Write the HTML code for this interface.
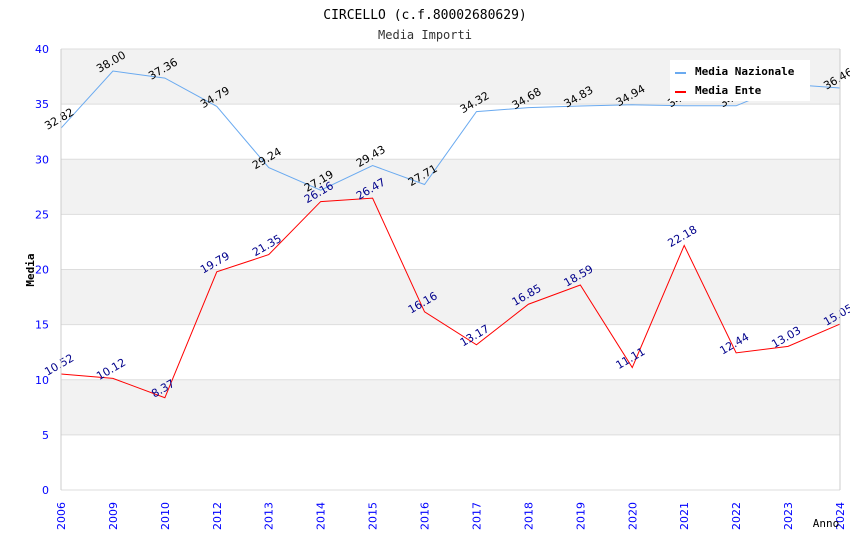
<!DOCTYPE html>
<html><head><meta charset="utf-8"><style>
body{margin:0;background:#fff;font-family:"DejaVu Sans Mono","Liberation Mono",monospace}
svg text{font-family:"DejaVu Sans","Liberation Sans",sans-serif}
.mono{font-family:"DejaVu Sans Mono","Liberation Mono",monospace}
</style></head><body>
<svg id="chart" width="850" height="550" xmlns="http://www.w3.org/2000/svg">
<text class="mono" x="425" y="19" text-anchor="middle" font-size="13" fill="#000">CIRCELLO (c.f.80002680629)</text>
<text class="mono" x="425" y="39" text-anchor="middle" font-size="12" fill="#333">Media Importi</text>
<g id="grid"></g><g id="lines"></g><g id="labels"></g><g id="axes"></g>
<text class="mono" x="34" y="270" transform="rotate(-90 34 270)" text-anchor="middle" font-size="11" font-weight="bold" fill="#000">Media</text>
<text class="mono" x="826" y="527" text-anchor="middle" font-size="11" fill="#000">Anno</text>
<g>
<rect x="670" y="60" width="140" height="41" fill="#fff"/>
<line x1="675" y1="73" x2="686" y2="73" stroke="#6aaaf0" stroke-width="2"/>
<text class="mono" x="695" y="75" font-size="11" font-weight="bold">Media Nazionale</text>
<line x1="675" y1="92" x2="686" y2="92" stroke="#f00" stroke-width="2"/>
<text class="mono" x="695" y="94" font-size="11" font-weight="bold">Media Ente</text>
</g>
</svg>
<script>
const categories=["2006","2009","2010","2012","2013","2014","2015","2016","2017","2018","2019","2020","2021","2022","2023","2024"];
const nazionale=[32.82,38.00,37.36,34.79,29.24,27.19,29.43,27.71,34.32,34.68,34.83,34.94,34.85,34.85,36.8,36.46];
const ente=[10.52,10.12,8.37,19.79,21.35,26.16,26.47,16.16,13.17,16.85,18.59,11.11,22.18,12.44,13.03,15.05];
const yTicks=[0,5,10,15,20,25,30,35,40];
const L=61,R=840,T=49,B=490,NS="http://www.w3.org/2000/svg";
const x=i=>L+i*(R-L)/(categories.length-1);
const y=v=>B-v*(B-T)/40;
function mk(p,t,a){const e=document.createElementNS(NS,t);for(const k in a)e.setAttribute(k,a[k]);document.getElementById(p).appendChild(e);return e;}
for(let i=0;i<yTicks.length-1;i++){
 const r=mk('grid','rect',{x:L,y:y(yTicks[i+1]),width:R-L,height:y(yTicks[i])-y(yTicks[i+1]),fill:i%2==1?'#f2f2f2':'#fff'});
 
 
}
yTicks.forEach(v=>{
 const l=mk('grid','line',{x1:L,x2:R,y1:y(v),y2:y(v),stroke:'#ddd'});
 
 
 const t=mk('axes','text',{x:L-12,y:y(v)+4,'text-anchor':'end','font-size':11,fill:'#00f'});t.textContent=v;
 
 
});
mk('axes','line',{x1:L,x2:L,y1:T,y2:B,stroke:'#ccc'});
mk('axes','line',{x1:R,x2:R,y1:T,y2:B,stroke:'#ccc'});
categories.forEach((c,i)=>{
 const t=mk('axes','text',{x:x(i)+4,y:B+26,transform:`rotate(-90 ${x(i)+4} ${B+26})`,'text-anchor':'middle','font-size':11,fill:'#00f'});t.textContent=c;
 
 
});
function series(d,col,lc,name){
 const p=mk('lines','polyline',{points:d.map((v,i)=>x(i)+','+y(v)).join(' '),fill:'none',stroke:col,'stroke-width':1});
 
 
 d.forEach((v,i)=>{
  const tx=x(i),ty=y(v)-6;
  const t=mk('labels','text',{x:tx,y:ty,transform:`rotate(-30 ${tx} ${ty})`,'text-anchor':'middle','font-size':11,fill:lc});
  t.textContent=v.toFixed(2);
  
  
 });
}
series(nazionale,'#6aaaf0','#000','nazionale');
series(ente,'#f00','#00008b','ente');
</script>
</body></html>
